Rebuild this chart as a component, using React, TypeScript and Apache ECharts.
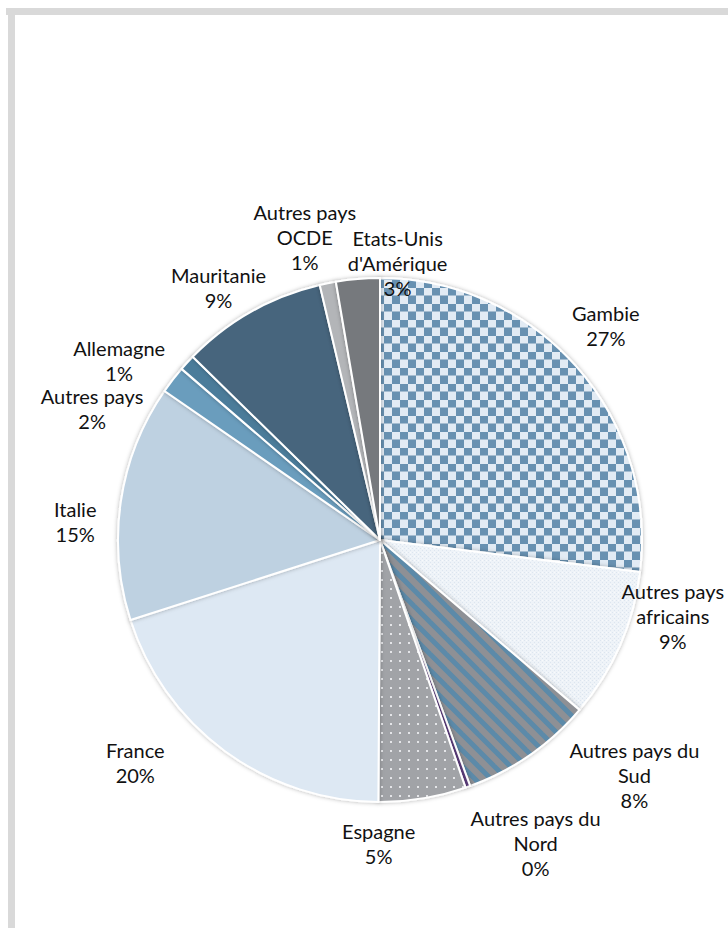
import React, { useEffect, useRef } from "react";
import * as echarts from "echarts";

const categories = [
  "Gambie",
  "Autres pays africains",
  "Autres pays du Sud",
  "Autres pays du Nord",
  "Espagne",
  "France",
  "Italie",
  "Autres pays",
  "Allemagne",
  "Mauritanie",
  "Autres pays OCDE",
  "Etats-Unis d'Amérique",
];
const shares = [27, 9.3, 8.2, 0.3, 5.4, 20, 14.6, 1.7, 1.0, 9.0, 1.0, 2.7];
const labelNames = [
  "Gambie",
  "Autres pays\nafricains",
  "Autres pays du\nSud",
  "Autres pays du\nNord",
  "Espagne",
  "France",
  "Italie",
  "Autres pays",
  "Allemagne",
  "Mauritanie",
  "Autres pays\nOCDE",
  "Etats-Unis\nd'Amérique",
];

const sliceColors = [
  "#e3ecf5",
  "#edf2f8",
  "#8c8f94",
  "#5b3c7c",
  "#a2a4a8",
  "#dde8f3",
  "#bed1e1",
  "#6b9dbd",
  "#4b7b9a",
  "#46657d",
  "#b3b5b8",
  "#76797d",
];

const labelNudge = [
  [-8, -8], [7, -50], [76, -21], [51, 9], [-52, -5], [-60, -29],
  [4, 27], [-41, 60], [-31, 32], [-8, 19], [-13, 3], [44, 34],
];

function makePattern(size: number, draw: (ctx: CanvasRenderingContext2D, s: number) => void) {
  const c = document.createElement("canvas");
  c.width = size;
  c.height = size;
  const ctx = c.getContext("2d")!;
  draw(ctx, size);
  return { image: c.toDataURL(), repeat: "repeat", imageWidth: size, imageHeight: size };
}

export default function App() {
  const ref = useRef<HTMLDivElement>(null);
  useEffect(() => {
    if (!ref.current) return;
    const chart = echarts.init(ref.current, null, { renderer: "svg" });
    const R = 262;

    const checker = makePattern(16, (ctx, s) => {
      ctx.fillStyle = "#e2ebf4";
      ctx.fillRect(0, 0, s, s);
      ctx.fillStyle = "#6891b1";
      ctx.fillRect(0, 0, s / 2, s / 2);
      ctx.fillRect(s / 2, s / 2, s / 2, s / 2);
      ctx.fillStyle = "#a4bcd0";
      ctx.fillRect(0, s / 2 - 1, s, 1);
    });
    const speckle = makePattern(4, (ctx) => {
      ctx.fillStyle = "#eef3f8";
      ctx.fillRect(0, 0, 4, 4);
      ctx.fillStyle = "#dce5ef";
      ctx.fillRect(0, 0, 1, 1);
      ctx.fillRect(2, 2, 1, 1);
      ctx.fillStyle = "#f8fafc";
      ctx.fillRect(2, 0, 1, 1);
    });
    const stripes = makePattern(16, (ctx, s) => {
      ctx.fillStyle = "#8e9095";
      ctx.fillRect(0, 0, s, s);
      ctx.strokeStyle = "#5b8aa9";
      ctx.lineWidth = 5;
      for (let k = -2; k <= 2; k++) {
        ctx.beginPath();
        ctx.moveTo(k * s - 4, -4);
        ctx.lineTo(k * s + s + 4, s + 4);
        ctx.stroke();
      }
    });
    const dots = makePattern(9, (ctx) => {
      ctx.fillStyle = "#a1a3a7";
      ctx.fillRect(0, 0, 9, 9);
      ctx.fillStyle = "#e4e5e8";
      ctx.fillRect(3, 3, 2, 2);
    });
    const fills: any[] = [checker, speckle, stripes, null, dots];

    const pieData = categories.map((name, i) => ({
      name,
      value: shares[i],
      itemStyle: { color: fills[i] || sliceColors[i] },
    }));
    const labelData = categories.map((name, i) => ({
      name,
      value: shares[i],
      itemStyle: { color: "rgba(0,0,0,0)" },
    }));
    chart.setOption({
      animation: false,
      backgroundColor: "#ffffff",
      graphic: [
        { type: "rect", shape: { x: 6, y: 8, width: 722, height: 7 }, style: { fill: "#d9d9d9" } },
        { type: "rect", shape: { x: 8, y: 8, width: 7, height: 920 }, style: { fill: "#d9d9d9" } },
      ],
      series: [
        {
          type: "pie",
          center: [380, 540],
          radius: R,
          startAngle: 90,
          clockwise: true,
          avoidLabelOverlap: false,
          silent: true,
          data: pieData,
          label: { show: false },
          labelLine: { show: false },
          itemStyle: {
            borderColor: "#ffffff",
            borderWidth: 2,
            shadowBlur: 4,
            shadowColor: "rgba(0,0,0,0.3)",
          },
        },
        {
          type: "pie",
          center: [380, 540],
          radius: [R, R * 1.36],
          startAngle: 90,
          clockwise: true,
          avoidLabelOverlap: false,
          silent: true,
          data: labelData,
          labelLine: { show: false },
          label: {
            show: true,
            position: "inside",
            fontFamily: "Lato",
            fontSize: 20,
            lineHeight: 25,
            color: "#111111",
            align: "center",
            formatter: (p: any) => labelNames[p.dataIndex] + "\n" + Math.round(p.percent) + "%",
          },
          labelLayout: (params: any) => ({
            dx: labelNudge[params.dataIndex][0],
            dy: labelNudge[params.dataIndex][1],
          }),
        },
      ],
    });
    return () => chart.dispose();
  }, []);
  return (
    <div
      ref={ref}
      style={{ position: "absolute", left: 0, top: 0, width: 728, height: 928 }}
    />
  );
}
